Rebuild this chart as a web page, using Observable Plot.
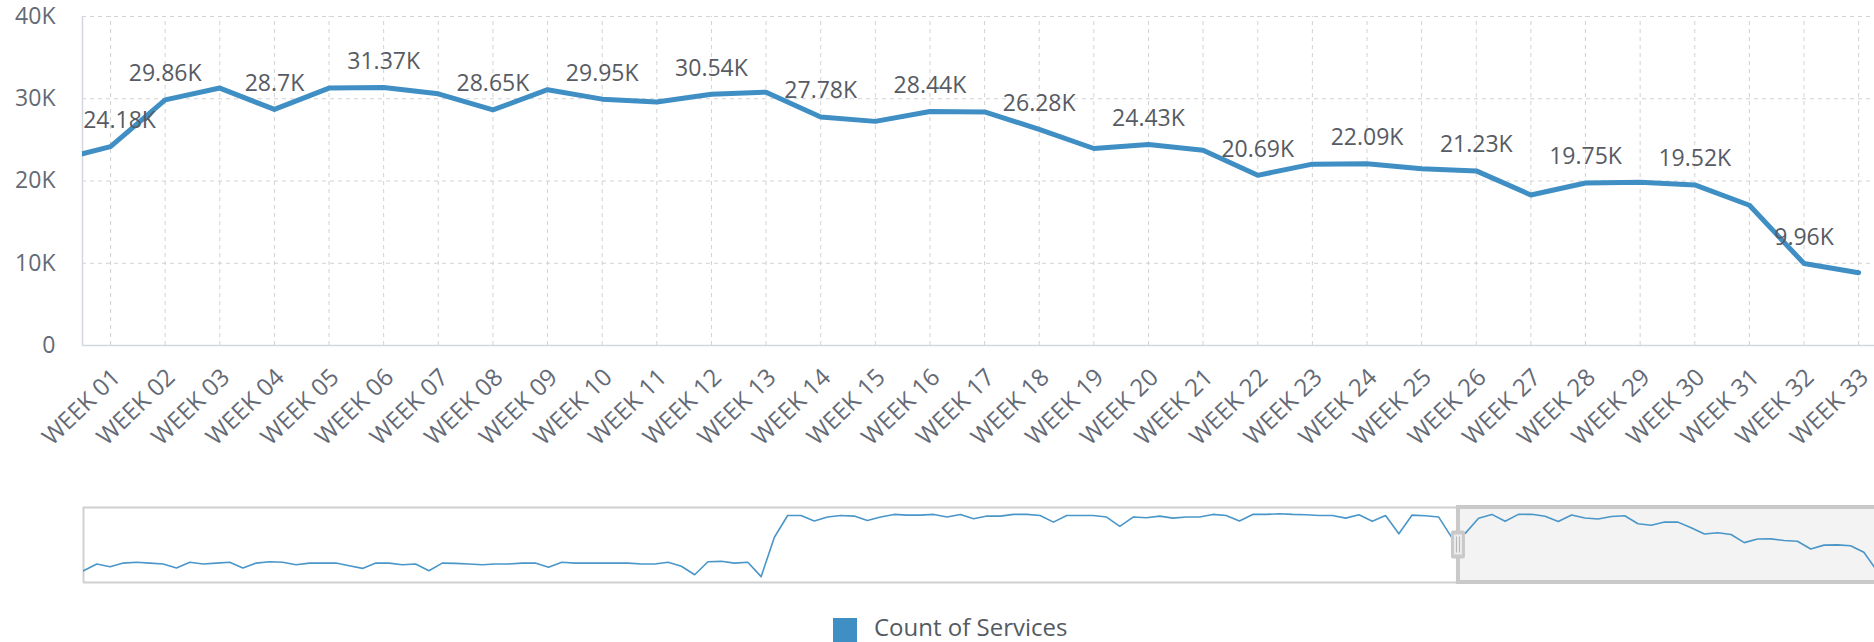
<!DOCTYPE html>
<html><head><meta charset="utf-8">
<script src="https://cdn.jsdelivr.net/npm/d3@7"></script>
<script src="https://cdn.jsdelivr.net/npm/@observablehq/plot@0.6"></script>
<style>
body{margin:0;background:#fff;font-family:"Open Sans",sans-serif;}
#wrap{position:relative;width:1874px;height:642px;overflow:hidden;background:#fff}
#main{position:absolute;left:0;top:0}
#nav{position:absolute;left:0;top:480px}
#sw{position:absolute;left:833px;top:618px;width:24px;height:24px;background:#3f8fc5}
#lt{position:absolute;left:874px;top:614px;font-size:24px;line-height:26px;color:#555a63;white-space:nowrap}
</style></head>
<body><div id="wrap"><div id="main"></div><div id="nav"></div><div id="sw"></div><div id="lt">Count of Services</div></div>
<script>
// ---- data ----
const weeks = d3.range(1, 34);
const weekLabels = weeks.map(w => "WEEK " + String(w).padStart(2, "0"));
const countValues = [24180, 29860, 31300, 28700, 31300, 31370, 30600, 28650, 31100, 29950,
  29600, 30540, 30800, 27780, 27250, 28440, 28400, 26280, 23950, 24430,
  23750, 20690, 22050, 22090, 21500, 21230, 18300, 19750, 19850, 19520,
  17050, 9960, 8850];
const labelledWeeks = [1, 2, 4, 6, 8, 10, 12, 14, 16, 18, 20, 22, 24, 26, 28, 30, 32];
// weekly values before WEEK 01 (overview strip), weeks -103 .. 0, in thousands
const priorWeekValuesK = [
  10.1, 12.65, 11.65, 13.0, 13.3, 13.0, 12.65, 11.15, 13.3, 12.65, 13.0, 13.3, 11.15, 13.0, 13.5, 13.3,
  12.4, 13.0, 13.0, 13.0, 12.0, 11.0, 13.0, 13.0, 12.4, 12.65, 10.1, 13.0, 12.9, 12.65, 12.4, 12.65,
  12.65, 13.0, 13.0, 11.4, 13.3, 13.0, 13.0, 13.0, 13.0, 13.0, 12.65, 12.65, 13.3, 11.8,
  8.6, 13.5, 13.66, 13.0, 13.3, 7.9, 22.7, 30.9, 30.9, 28.8, 30.3, 30.9, 30.67, 29.0, 30.3, 31.3,
  31.05, 31.05, 31.3, 30.3, 31.3, 29.65, 30.67, 30.67, 31.3, 31.3, 30.9, 28.4, 30.9, 30.9, 30.9, 30.3,
  26.8, 30.3, 30.04, 30.67, 29.9, 30.3, 30.3, 31.3, 30.9, 28.8, 31.3, 31.3, 31.55,
  31.3, 31.2, 30.9, 30.9, 29.9, 31.2, 28.7, 30.9, 24.0, 31.05, 30.8, 30.3, 22.5];
const yTicks = [0, 10000, 20000, 30000, 40000];
const yTickLabels = ["0", "10K", "20K", "30K", "40K"];
const seriesName = "Count of Services";

// ---- tables ----
const firstPriorWeek = 1 - priorWeekValuesK.length;
const prior = priorWeekValuesK.map((v, i) => ({week: firstPriorWeek + i, value: v * 1000}));
const current = weeks.map((w, i) => ({week: w, value: countValues[i], label: weekLabels[i]}));
const allData = prior.concat(current);
const mainData = [prior[prior.length - 1]].concat(current);
const labelled = current.filter(d => labelledWeeks.includes(d.week));
const fmtK = v => +(v / 1000).toFixed(2) + "K";

const windowStart = 0.487, windowEnd = 33.29;
const lineColor = "#3f8fc5";
const gridColor = "#d2d2d2";
const axisColor = "#d3d6dc";
const tickColor = "#646a76";
const labelColor = "#575b63";

const main = Plot.plot({
  width: 1874, height: 480,
  marginLeft: 82, marginRight: 0, marginTop: 16, marginBottom: 135,
  style: {fontFamily: "'Open Sans', sans-serif", background: "transparent", overflow: "visible"},
  x: {type: "linear", domain: [windowStart, windowEnd], axis: null},
  y: {domain: [0, 40000], axis: null},
  marks: [
    Plot.ruleX(weeks, {x: d => d, y1: 0, y2: 40000, stroke: gridColor, strokeDasharray: "4,4"}),
    Plot.ruleY(yTicks.slice(1), {y: d => d, stroke: gridColor, strokeDasharray: "4,4"}),
    Plot.ruleX([windowStart], {y1: 0, y2: 40000, stroke: axisColor, strokeWidth: 1.5}),
    Plot.ruleY([0], {stroke: axisColor, strokeWidth: 1.5}),
    Plot.line(mainData, {x: "week", y: "value", stroke: lineColor, strokeWidth: 5, clip: true, strokeLinejoin: "round"}),
    Plot.text(yTicks, {x: windowStart, y: d => d, text: (d, i) => yTickLabels[i], textAnchor: "end", dx: -27, fontSize: 23, fill: tickColor}),
    Plot.text(current, {x: "week", y: 0, text: "label", rotate: -44, textAnchor: "end", lineAnchor: "middle", dx: 6, dy: 28, fontSize: 24, fill: tickColor}),
    Plot.text(labelled.slice(0, 1), {x: "week", y: "value", text: d => fmtK(d.value), dy: -26, dx: 9, fontSize: 23, fill: labelColor}),
    Plot.text(labelled.slice(1), {x: "week", y: "value", text: d => fmtK(d.value), dy: -26, fontSize: 23, fill: labelColor})
  ]
});
document.getElementById("main").appendChild(main);

// ---- overview / navigator strip ----
const navYMin = 5700, navYMax = 33900;
const nav = Plot.plot({
  width: 1874, height: 120,
  marginLeft: 83, marginRight: 0, marginTop: 27, marginBottom: 18,
  style: {background: "transparent", overflow: "visible"},
  x: {type: "linear", domain: [firstPriorWeek, 31.8], axis: null},
  y: {domain: [navYMin, navYMax], axis: null},
  marks: [
    Plot.ruleY([navYMax, navYMin], {stroke: "#d0d0d0", strokeWidth: 2}),
    Plot.ruleX([firstPriorWeek], {y1: navYMin, y2: navYMax, stroke: "#d0d0d0", strokeWidth: 2}),
    Plot.rect([{x1: windowStart, x2: windowEnd + 20}], {x1: "x1", x2: "x2", y1: navYMin, y2: navYMax, fill: "#f3f3f3", stroke: "#c9c9c9", strokeWidth: 4}),
    Plot.line(allData, {x: "week", y: "value", stroke: "#4a96c9", strokeWidth: 1.6, clip: true})
  ]
});
document.getElementById("nav").appendChild(nav);

// handle on the window's left edge
{
  const sx = nav.scale("x"), sy = nav.scale("y");
  const hx = sx.apply(windowStart);
  const yTop = sy.apply(navYMax), yBot = sy.apply(navYMin);
  const mid = (yTop + yBot) / 2;
  const svg = d3.select(nav);
  const g = svg.append("g");
  g.append("rect").attr("x", hx - 7).attr("y", mid - 14).attr("width", 14).attr("height", 28)
    .attr("rx", 2).attr("fill", "#c9c9c9");
  g.append("rect").attr("x", hx - 4).attr("y", mid - 10).attr("width", 8).attr("height", 20)
    .attr("fill", "#ececec");
  g.append("line").attr("x1", hx - 1.5).attr("x2", hx - 1.5).attr("y1", mid - 8).attr("y2", mid + 8).attr("stroke", "#b5b5b5");
  g.append("line").attr("x1", hx + 1.5).attr("x2", hx + 1.5).attr("y1", mid - 8).attr("y2", mid + 8).attr("stroke", "#b5b5b5");
}
</script>
</body></html>
